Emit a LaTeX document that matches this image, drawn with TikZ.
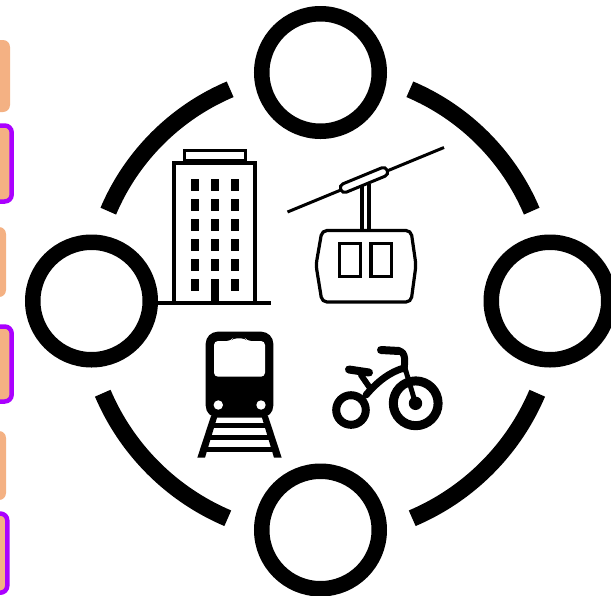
\documentclass[tikz,border=0pt]{standalone}
\usepackage{tikz}
\usetikzlibrary{positioning}
\definecolor{softorange}{RGB}{244,177,131}
\definecolor{vivpurple}{RGB}{170,0,255}
\tikzset{
  ring/.style={circle,draw=black,line width=15.5pt,minimum size=117.5pt,inner sep=0pt},
  linkarc/.style={draw=black,line width=17pt},
  plainbox/.style={fill=softorange,rounded corners=7pt},
  markbox/.style={plainbox,draw=vivpurple,line width=4.5pt},
  thin/.style={draw=black,line width=3.2pt},
  rail/.style={draw=black,line width=5pt},
  pipe/.style={draw=black,line width=7pt,line cap=round}
}
\begin{document}
\begin{tikzpicture}[x=1pt,y=-1pt]
\clip (0,0) rectangle (611,595);
\fill[white] (0,0) rectangle (611,595);
\fill[plainbox] (-30,40) rectangle (10,112);
\draw[markbox] (-30,125.5) rectangle (11.7,201.5);
\fill[plainbox] (-30,227) rectangle (6,297);
\draw[markbox] (-30,326.5) rectangle (11.7,401.5);
\fill[plainbox] (-30,431) rectangle (6,500);
\draw[markbox] (-30,513.5) rectangle (7.3,592.7);
\node[ring] (ringtop) at (320.5,72.5) {};
\node[ring] (ringleft) at (91.5,301) {};
\node[ring] (ringright) at (550,301) {};
\node[ring] (ringbottom) at (320.5,530) {};
\coordinate (hubtop) at (320,301);
\draw[linkarc] ([shift={(-113:230)}]hubtop) arc[start angle=-113,end angle=-157,radius=230];
\draw[linkarc] ([shift={(-67:230)}]hubtop) arc[start angle=-67,end angle=-23,radius=230];
\draw[linkarc] ([shift={(113:236)}]hubtop) arc[start angle=113,end angle=157,radius=236];
\draw[linkarc] ([shift={(67:236)}]hubtop) arc[start angle=67,end angle=23,radius=236];
\draw[thin] (184.5,161) rectangle (245.5,150.7);
\draw[thin] (174,303) -- (174,163) -- (255,163) -- (255,303);
\draw[draw=black,line width=4pt] (158,303) -- (271,303);
\foreach \row in {179,199,219,239,259,279}{
  \foreach \col in {191,211,231}{
    \fill[black] (\col,\row) rectangle ++(8,12);
  }
}
\fill[black] (211,279) rectangle (219,303);
\draw[draw=black,line width=3pt] (287.5,212) -- (444,147.5);
\node[draw=black,fill=white,line width=3pt,rounded corners=4pt,minimum width=50pt,minimum height=9pt,inner sep=0pt,rotate=22.4] (clamp) at (364,180) {};
\draw[thin] (362,186) -- (362,230);
\draw[thin] (369,184) -- (369,230);
\draw[thin,rounded corners=5pt] (322,230.5) -- (411,230.5) -- (416,265) -- (411,302) -- (322,302) -- (316,265) -- cycle;
\draw[thin] (339.3,243.8) rectangle (360.2,276.8);
\draw[thin] (371,243.8) rectangle (391.8,276.8);
\fill[black,rounded corners=12pt] (205.7,331.7) rectangle (273.3,417.7);
\fill[white,rounded corners=4pt] (214,341) -- (231,341) -- (233,338.3) -- (245,338.3) -- (247,341) -- (265,341) -- (265,376.7) -- (214,376.7) -- cycle;
\fill[white] (218.3,405) circle (4.7pt);
\fill[white] (261,405) circle (4.7pt);
\fill[black] (211,416) -- (217.5,416) -- (205,457.7) -- (197.3,457.7) -- cycle;
\fill[black] (268,416) -- (261.5,416) -- (274,457.7) -- (281.7,457.7) -- cycle;
\draw[rail] (212,425.7) -- (267,425.7);
\draw[rail] (207.5,437.5) -- (271.5,437.5);
\draw[rail] (203,449) -- (276,449);
\draw[pipe,line width=8pt] (351,410) circle (14.8pt);
\draw[pipe,line width=9pt] (415.7,403.3) circle (22.4pt);
\fill[black] (415.5,403.3) circle (6.7pt);
\draw[pipe,line width=5pt] (405,368) -- (415.5,403.3);
\draw[pipe] (366,395) .. controls (378,381) and (390,372) .. (404,368);
\draw[pipe] (404,369) .. controls (405,362) and (406,352) .. (399,351);
\draw[pipe,line width=8pt] (381,350) -- (399,351);
\draw[pipe,line width=8pt] (349,369.5) -- (369,372.5);
\draw[pipe,line width=6pt] (361,375) -- (370,388);
\end{tikzpicture}
\end{document}
